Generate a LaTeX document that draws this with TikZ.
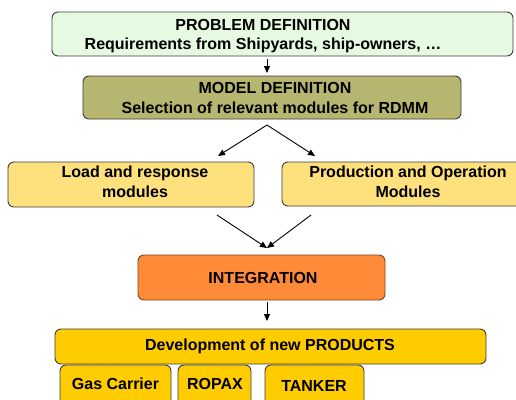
\documentclass[tikz,border=0pt]{standalone}
\usepackage{fontspec}
\setmainfont{Liberation Sans}
\usetikzlibrary{arrows.meta}

\definecolor{probfill}{RGB}{230,250,226}
\definecolor{modelfill}{RGB}{183,182,112}
\definecolor{modfill}{RGB}{254,224,124}
\definecolor{intfill}{RGB}{255,138,56}
\definecolor{intedge}{RGB}{120,70,40}
\definecolor{prodfill}{RGB}{255,204,0}
\definecolor{edge}{RGB}{60,60,60}

\tikzset{
  box/.style={draw=edge, line width=0.9pt, rounded corners=6pt,
              inner sep=0pt, outer sep=0pt},
  lbl/.style={align=center, inner sep=0pt,
              font=\bfseries\fontsize{16}{19.5}\selectfont},
  arr/.style={line width=0.9pt, -{Triangle[length=7pt,width=6pt]}},
}

\begin{document}
\begin{tikzpicture}[x=1pt,y=-1pt]
\useasboundingbox (0,0) rectangle (516,399);
\clip (0,0) rectangle (516,399);

% boxes
\node[box, fill=probfill,  minimum width=461pt, minimum height=44pt] (prob)  at (282.5,34)  {};
\node[box, fill=modelfill, minimum width=378pt, minimum height=43pt] (model) at (272,97.5)   {};
\node[box, fill=modfill,   minimum width=246pt, minimum height=45pt] (load)  at (131,184.5)  {};
\node[box, fill=modfill,   minimum width=248pt, minimum height=44pt] (prodop) at (406,184)  {};
\node[box, fill=intfill, draw=intedge, minimum width=247pt, minimum height=45pt] (integ) at (261.5,277.5) {};
\node[box, fill=prodfill,  minimum width=431pt, minimum height=35pt] (dev)   at (270.5,346.5) {};
\node[box, fill=prodfill,  minimum width=111pt, minimum height=45pt] (gas)   at (115.5,387.5) {};
\node[box, fill=prodfill,  minimum width=73pt,  minimum height=45pt] (ropax) at (214.5,387.5) {};
\node[box, fill=prodfill,  minimum width=99pt,  minimum height=45pt] (tanker) at (314.5,387.5) {};

% labels
\node[lbl] (probtxt)   at (263,36.2)  {PROBLEM DEFINITION\\Requirements from Shipyards, ship-owners, …};
\node[lbl] (modeltxt)  at (275,98)    {MODEL DEFINITION\\Selection of relevant modules for RDMM};
\node[lbl] (loadtxt)   at (135,181.7) {Load and response\\modules};
\node[lbl] (prodoptxt) at (408,181.7) {Production and Operation\\Modules};
\node[lbl] (integtxt)  at (263,277.5) {INTEGRATION};
\node[lbl] (devtxt)    at (270,345.9) {Development of new PRODUCTS};
\node[lbl] (gastxt)    at (115.5,383.5) {Gas Carrier};
\node[lbl] (ropaxtxt)  at (215,383.5) {ROPAX};
\node[lbl] (tankertxt) at (314,385.8) {TANKER};

% connector end points
\coordinate (split) at (267,125);
\coordinate (loadin) at (218,156);
\coordinate (prodin) at (315,156);
\coordinate (loadout) at (217,215);
\coordinate (prodout) at (311,215);
\coordinate (merge) at (267,248);
\coordinate (vline) at (267,0);

% connectors
\draw[arr, shorten <=3pt, shorten >=3pt] (prob.south -| vline) -- (model.north -| vline);
\draw[arr] (split) -- (loadin);
\draw[arr] (split) -- (prodin);
\draw[arr] (loadout) -- (merge);
\draw[arr] (prodout) -- (merge);
\draw[arr, shorten <=2pt, shorten >=8pt] (integ.south -| vline) -- (dev.north -| vline);
\end{tikzpicture}
\end{document}
